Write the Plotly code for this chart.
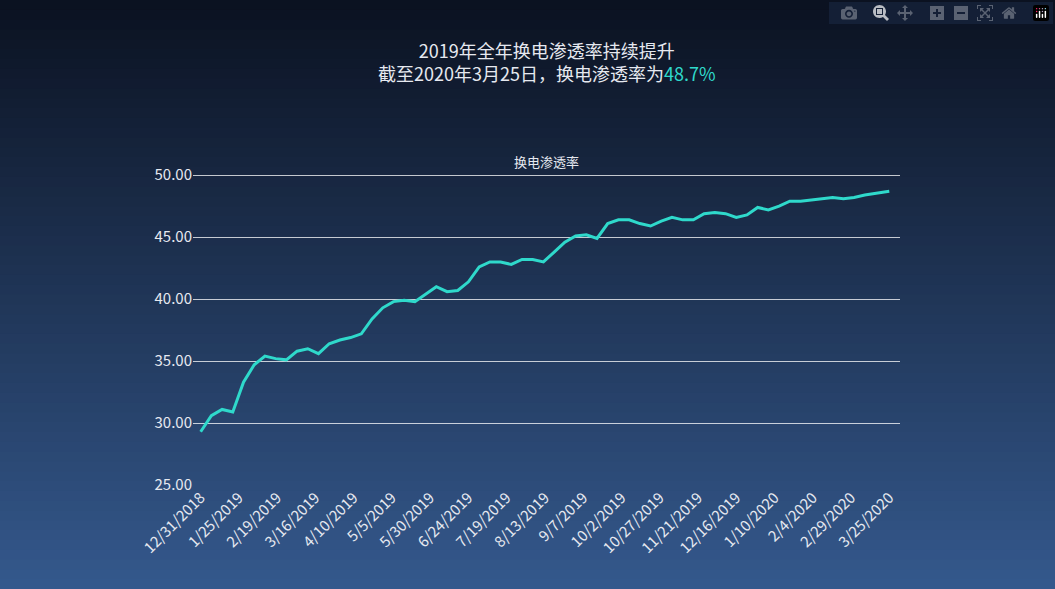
import pandas as pd
import plotly.graph_objects as go

dates = list(pd.date_range("2018-12-31", periods=63, freq="7D")) + [pd.Timestamp("2020-03-25")]
rate = [29.3, 30.6, 31.1, 30.9, 33.3, 34.7, 35.4, 35.2, 35.1, 35.8, 36.0, 35.6, 36.4, 36.7,
        36.9, 37.2, 38.4, 39.3, 39.8, 39.9, 39.8, 40.4, 41.0, 40.6, 40.7, 41.4, 42.6, 43.0,
        43.0, 42.8, 43.2, 43.2, 43.0, 43.8, 44.6, 45.1, 45.2, 44.9, 46.1, 46.4, 46.4, 46.1,
        45.9, 46.3, 46.6, 46.4, 46.4, 46.9, 47.0, 46.9, 46.6, 46.8, 47.4, 47.2, 47.5, 47.9,
        47.9, 48.0, 48.1, 48.2, 48.1, 48.2, 48.4, 48.7]
tick_dates = pd.date_range("2018-12-31", "2020-03-25", freq="25D")
tick_text = [f"{d.month}/{d.day}/{d.year}" for d in tick_dates]

fig = go.Figure(go.Scatter(x=dates, y=rate, mode="lines",
                           line=dict(color="#2fd9cb", width=3), hoverinfo="x+y"))

# vertical gradient background
top, bot = (11, 18, 33), (52, 88, 140)
n = 60
y_top, y_bot = 485 / 311, -104 / 311
step = (y_bot - y_top) / n
shapes = []
for i in range(n):
    t = i / (n - 1)
    c = tuple(round(top[k] + (bot[k] - top[k]) * t) for k in range(3))
    y0 = y_top + step * i
    y1 = y_top + step * (i + 1) + step * 0.5  # overlap to avoid seams
    shapes.append(dict(type="rect", xref="paper", yref="paper", x0=-1, x1=2, y0=y0, y1=y1,
                       fillcolor=f"rgb{c}", line=dict(width=0), layer="below"))

font = "Noto Sans CJK SC, Lato, sans-serif"
fig.update_layout(
    width=1055, height=589, shapes=shapes,
    margin=dict(l=193, r=155, t=174, b=104),
    paper_bgcolor="#1b2b4a", plot_bgcolor="rgba(0,0,0,0)",
    font=dict(family=font, color="#e6e9f0", size=15),
    showlegend=False,
    annotations=[
        dict(text="2019年全年换电渗透率持续提升<br>截至2020年3月25日，换电渗透率为<span style='color:#2fd9cb'>48.7%</span>",
             xref="paper", yref="paper", x=0.5, y=(485 - 61) / 311, showarrow=False,
             font=dict(size=18, color="#e6e9f0"), xanchor="center", yanchor="middle"),
        dict(text="换电渗透率", xref="paper", yref="paper", x=0.5, y=(485 - 150) / 311,
             showarrow=False, font=dict(size=13, color="#e6e9f0")),
    ],
    xaxis=dict(tickvals=tick_dates, ticktext=tick_text, tickangle=-45, showgrid=False,
               range=["2018-12-26", "2020-04-01"], zeroline=False),
    yaxis=dict(range=[25, 50.1], tickvals=[25, 30, 35, 40, 45, 50], tickformat=".2f",
               ticksuffix="%", gridcolor="rgba(255,255,255,0.75)", gridwidth=1,
               zeroline=False),
)
fig.write_html("out.html", post_script="document.body.style.margin='0';")
